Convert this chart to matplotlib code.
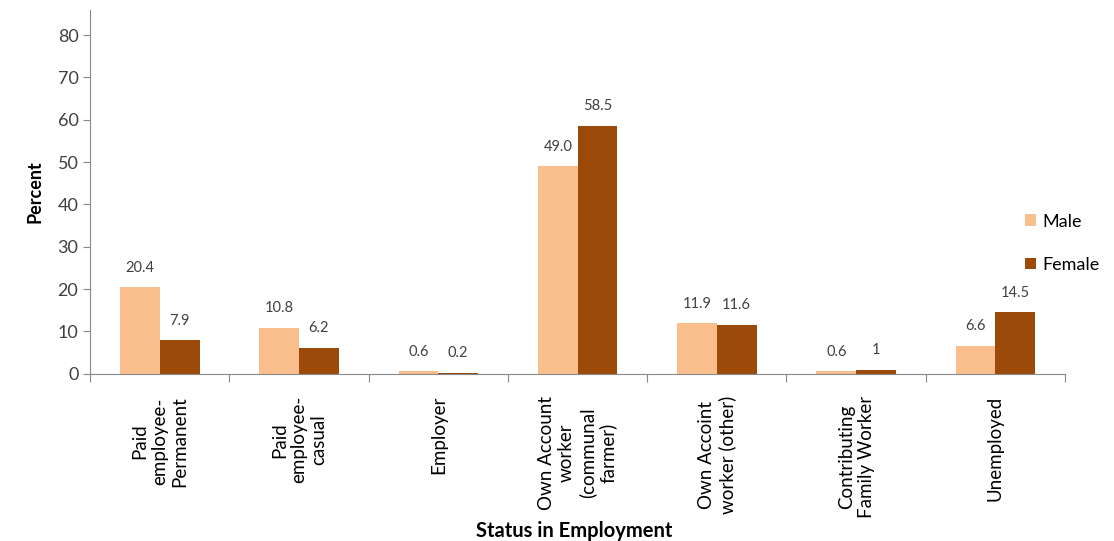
import matplotlib.pyplot as plt
import numpy as np

# data
categories = ["Paid\nemployee-\nPermanent", "Paid\nemployee-\ncasual", "Employer",
              "Own Account\nworker\n(communal\nfarmer)", "Own Accoint\nworker (other)",
              "Contributing\nFamily Worker", "Unemployed"]
male = [20.4, 10.8, 0.6, 49.0, 11.9, 0.6, 6.6]
female = [7.9, 6.2, 0.2, 58.5, 11.6, 1, 14.5]
male_labels = ["20.4", "10.8", "0.6", "49.0", "11.9", "0.6", "6.6"]
female_labels = ["7.9", "6.2", "0.2", "58.5", "11.6", "1", "14.5"]

plt.rcParams['font.family'] = ['Lato', 'DejaVu Sans']

fig = plt.figure(figsize=(11.14, 5.41), dpi=100)
ax = fig.add_axes([0.081, 0.309, 0.875, 0.673])

x = np.arange(len(categories))
w = 0.285
c_male = '#F9BE8C'
c_female = '#9C4A0A'
ax.bar(x - w/2, male, w, color=c_male, label='Male')
ax.bar(x + w/2, female, w, color=c_female, label='Female')

for xi, v, t in zip(x, male, male_labels):
    ax.text(xi - w/2, v + 3, t, ha='center', va='bottom', fontsize=10.5, color='#404040')
for xi, v, t in zip(x, female, female_labels):
    ax.text(xi + w/2, v + 3, t, ha='center', va='bottom', fontsize=10.5, color='#404040')

ax.set_xlim(-0.5, len(categories) - 0.5)
ax.set_ylim(0, 86)
ax.set_yticks(range(0, 81, 10))
ax.tick_params(axis='y', labelsize=13, labelcolor='#404040', color='#888888', length=5)

# category ticks at boundaries, labels centred
ax.set_xticks(np.arange(-0.5, len(categories), 1.0))
ax.set_xticklabels([])
ax.set_xticks(x, minor=True)
ax.set_xticklabels(categories, minor=True, rotation=90, fontsize=13.5,
                   va='top', ha='center', multialignment='center')
ax.tick_params(axis='x', which='major', length=6, color='#888888')
ax.tick_params(axis='x', which='minor', length=0, pad=16)

for s in ['top', 'right']:
    ax.spines[s].set_visible(False)
ax.spines['left'].set_color('#888888')
ax.spines['bottom'].set_color('#888888')

ax.set_ylabel('Percent', fontweight='bold', fontsize=13, labelpad=10)
fig.text(0.515, 0.008, 'Status in Employment', fontweight='bold', fontsize=14.5, ha='center')

ax.legend(loc='upper left', bbox_to_anchor=(0.952, 0.46), frameon=False, fontsize=13,
          handlelength=0.6, handleheight=0.6, handletextpad=0.35, labelspacing=1.5,
          borderaxespad=0)

fig.savefig('out.png', dpi=100)
